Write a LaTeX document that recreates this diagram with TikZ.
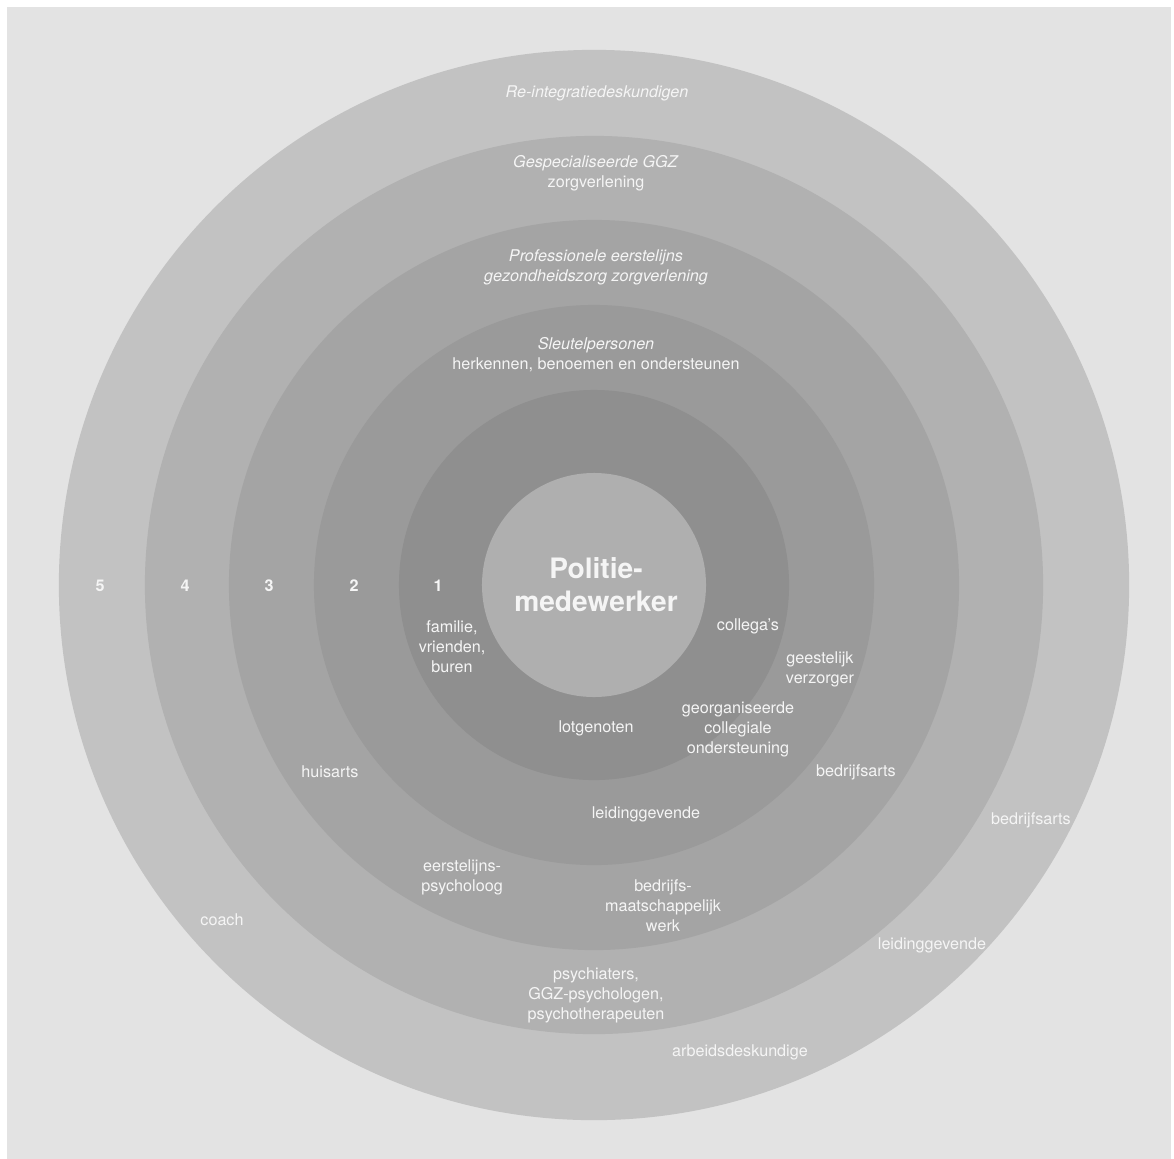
\documentclass[tikz,border=0pt]{standalone}
\usepackage{fontspec}
\setmainfont{TeX Gyre Heros}
\usetikzlibrary{positioning}
\definecolor{paper}{HTML}{E3E3E3}
\definecolor{shade5}{HTML}{C2C2C2}
\definecolor{shade4}{HTML}{B1B1B1}
\definecolor{shade3}{HTML}{A4A4A4}
\definecolor{shade2}{HTML}{9A9A9A}
\definecolor{shade1}{HTML}{8F8F8F}
\definecolor{shade0}{HTML}{AFAFAF}
\tikzset{
every node/.style = {text = white!96!black, font = \fontsize{11.5}{14.2}\selectfont},
ring/.style = {circle, inner sep = 0pt, outer sep = 0pt},
label/.style = {align = center, inner sep = 1pt},
number/.style = {inner sep = 1pt, font = \fontsize{11.5}{14.2}\selectfont\bfseries},
worker/.style = {align = center, inner sep = 1pt,
   font = \fontsize{20}{23.5}\selectfont\bfseries}
}
\begin{document}
\begin{tikzpicture}[x = 0.025cm, y = -0.025cm]

%% Paper
\useasboundingbox [fill = white] (0,0) rectangle (1174,1158);
\fill [paper] (7,7) rectangle (1171,1160);

%% Rings, outside in
\node [ring, fill = shade5, minimum size = 26.75cm] (C5) at (594,585) {};
\node [ring, fill = shade4, minimum size = 22.45cm] (C4) at (C5) {};
\node [ring, fill = shade3, minimum size = 18.25cm] (C3) at (C5) {};
\node [ring, fill = shade2, minimum size = 14cm] (C2) at (C5) {};
\node [ring, fill = shade1, minimum size = 9.75cm] (C1) at (C5) {};
\node [ring, fill = shade0, minimum size = 5.6cm] (C0) at (C5) {};

%% Centre
\node [worker] (W) at (596,585) {Politie-\\medewerker};

%% Ring numbers
\foreach \n/\x in {5/100, 4/185, 3/269, 2/354, 1/438}
   \node [number] (N\n) at (\x,586) {\n};

%% Ring titles
\node [label] (T5) at (597,93) {\textit{Re-integratiedeskundigen}};
\node [label] (T4) at (596,173) {\textit{Gespecialiseerde GGZ}\\zorgverlening};
\node [label] (T3) at (596,267) {\textit{Professionele eerstelijns}\\\textit{gezondheidszorg zorgverlening}};
\node [label] (T2) at (596,355) {\textit{Sleutelpersonen}\\herkennen, benoemen en ondersteunen};

%% Ring 1
\node [label] (family) at (452,647) {familie,\\vrienden,\\buren};
\node [label] (colleagues) at (748,626) {collega's};
\node [label] (peers) at (596,728) {lotgenoten};

%% Ring 2
\node [label] (chaplain) at (820,669) {geestelijk\\verzorger};
\node [label] (peersupport) at (738,729) {georganiseerde\\collegiale\\ondersteuning};
\node [label] (manager2) at (646,814) {leidinggevende};

%% Ring 3
\node [label] (gp) at (330,772) {huisarts};
\node [label] (doctor3) at (856,772) {bedrijfsarts};
\node [label] (psych3) at (462,877) {eerstelijns-\\psycholoog};
\node [label] (social3) at (663,906) {bedrijfs-\\maatschappelijk\\werk};

%% Ring 4
\node [label] (psych4) at (596,995) {psychiaters,\\GGZ-psychologen,\\psychotherapeuten};

%% Ring 5
\node [label] (coach) at (222,920) {coach};
\node [label] (doctor5) at (1031,820) {bedrijfsarts};
\node [label] (manager5) at (932,945) {leidinggevende};
\node [label] (expert5) at (740,1052) {arbeidsdeskundige};

\end{tikzpicture}
\end{document}
